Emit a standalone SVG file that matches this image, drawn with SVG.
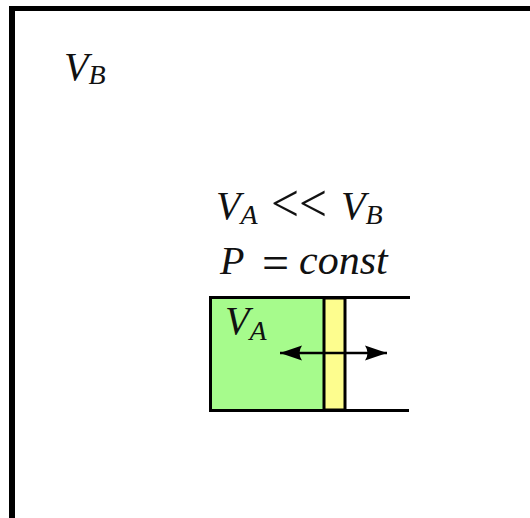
<svg xmlns="http://www.w3.org/2000/svg" width="530" height="518" viewBox="0 0 530 518">
<style>
.m{font-family:"Liberation Serif","Times New Roman",serif;font-style:italic;fill:#111}
.r{font-family:"Liberation Serif","Times New Roman",serif;fill:#111}
.b{font-size:40px}
.s{font-size:28px}
.w{fill:none;stroke:#000;stroke-width:3}
</style>
<defs>
<marker id="head" markerUnits="userSpaceOnUse" markerWidth="24" markerHeight="18" refX="22" refY="9" orient="auto-start-reverse">
<path d="M0 1.500 L22 9 L0 16.500 Q5 9 0 1.500Z" fill="#000"/>
</marker>
</defs>
<rect width="530" height="518" fill="#fff"/>
<g id="container">
<path d="M9 518V6H530V11H15V518Z" fill="#000"/>
</g>
<g id="volume-b-label">
<text class="m b" x="64" y="80">V</text><text class="m s" x="88.500" y="84">B</text>
</g>
<g id="relation-label">
<text class="m b" x="216" y="219">V</text><text class="m s" x="240.500" y="224">A</text>
<text class="r" font-size="52" x="271" y="221" textLength="56" lengthAdjust="spacingAndGlyphs">&lt;&lt;</text>
<text class="m b" x="341" y="219">V</text><text class="m s" x="365.500" y="224">B</text>
</g>
<g id="pressure-label">
<text class="m b" x="220" y="274">P</text>
<text class="r" font-size="48" x="262" y="279">=</text>
<text class="m" font-size="42" x="299" y="274">const</text>
</g>
<g id="cylinder">
<rect x="210.500" y="297.500" width="113.500" height="113" fill="#a6fb8c"/>
<path class="w" d="M410 297.500H210.500V410.500H409"/>
</g>
<g id="piston">
<rect x="324" y="298" width="21" height="112" fill="#fdfd8e" stroke="#000" stroke-width="3"/>
</g>
<g id="volume-a-label">
<text class="m b" x="225" y="334">V</text><text class="m s" x="249.500" y="340">A</text>
</g>
<g id="connectors">
<line x1="280" y1="353" x2="387" y2="353" stroke="#000" stroke-width="2.500" marker-start="url(#head)" marker-end="url(#head)"/>
</g>
</svg>
